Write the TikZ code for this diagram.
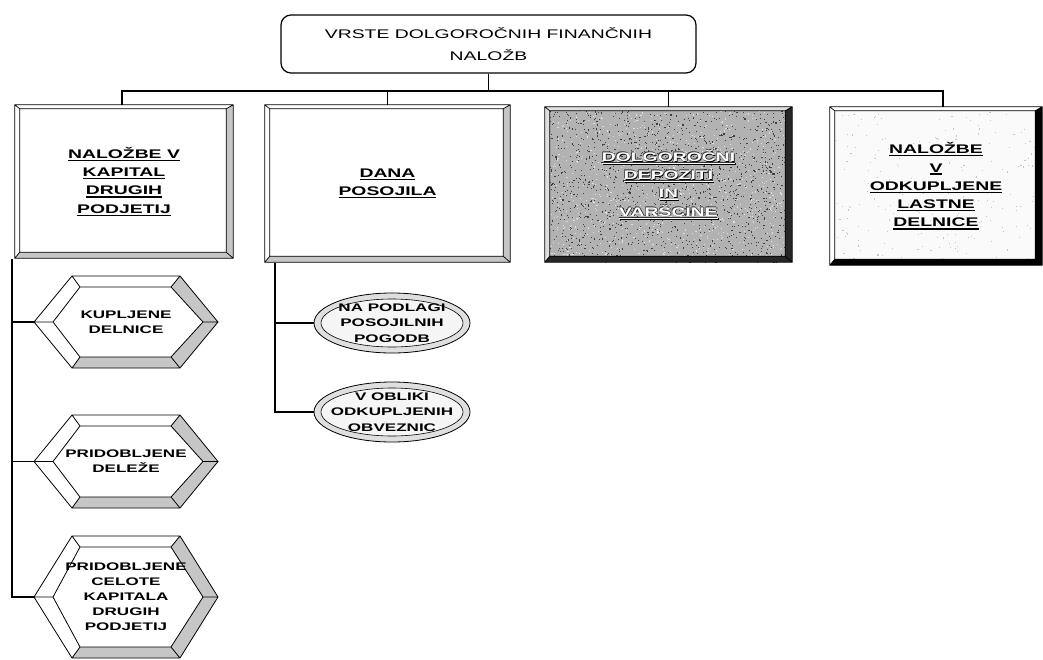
\documentclass[tikz,border=0pt]{standalone}
\usepackage{fontspec}
\setmainfont{Liberation Sans}
\newfontfamily\widefont[FakeStretch=1.55]{Liberation Sans}
\usetikzlibrary{calc}
\pgfdeclarelayer{background}
\pgfsetlayers{background,main}

% underlined word with a heavier rule
\newcommand\ul[1]{\setbox0=\hbox{#1}\rlap{\rule[-2.6pt]{\wd0}{1.2pt}}\box0}
% white lettering with a dark rim
\newcommand\emb[1]{%
  \rlap{\kern0.8pt\raisebox{-0.8pt}{\textcolor{black}{\ul{#1}}}}%
  \rlap{\kern-0.6pt\raisebox{0.6pt}{\textcolor{black!80}{\ul{#1}}}}%
  \textcolor{white}{\ul{#1}}}

% bevelled frame around a rectangular node: #1 node, #2 light faces, #3 dark faces
\newcommand\bevel[3]{%
  \coordinate (#1o1) at (#1.north west);
  \coordinate (#1o2) at (#1.north east);
  \coordinate (#1o3) at (#1.south east);
  \coordinate (#1o4) at (#1.south west);
  \coordinate (#1i1) at ([shift={(5,4)}]#1.north west);
  \coordinate (#1i2) at ([shift={(-7,4)}]#1.north east);
  \coordinate (#1i3) at ([shift={(-7,-6)}]#1.south east);
  \coordinate (#1i4) at ([shift={(5,-6)}]#1.south west);
  \fill[#2] (#1o1)--(#1i1)--(#1i4)--(#1o4)--cycle (#1o1)--(#1o2)--(#1i2)--(#1i1)--cycle;
  \fill[#3] (#1o2)--(#1o3)--(#1i3)--(#1i2)--cycle (#1o4)--(#1o3)--(#1i3)--(#1i4)--cycle;
  \draw[line width=0.7pt] (#1o1) rectangle (#1o3) (#1i1) rectangle (#1i3)
    (#1o1)--(#1i1) (#1o2)--(#1i2) (#1o3)--(#1i3) (#1o4)--(#1i4);
}

% bevelled hexagon: #1 cx, #2 cy, #3 half height, #4 dark faces
\newcommand\hexbev[4]{%
  \begin{scope}[shift={(#1,#2)}]
    \path (-92,0) coordinate (L) (-54,-#3) coordinate (TL) (54,-#3) coordinate (TR)
          (92,0) coordinate (R) (54,#3) coordinate (BR) (-54,#3) coordinate (BL)
          (-73,0) coordinate (iL) (-46,{-#3+11}) coordinate (iTL) (45,{-#3+11}) coordinate (iTR)
          (77,0) coordinate (iR) (45,{#3-11}) coordinate (iBR) (-46,{#3-11}) coordinate (iBL);
    \fill[white] (L)--(TL)--(TR)--(R)--(BR)--(BL)--cycle;
    \fill[#4] (TR)--(R)--(iR)--(iTR)--cycle (R)--(BR)--(iBR)--(iR)--cycle
              (BR)--(BL)--(iBL)--(iBR)--cycle;
    \draw[line width=0.8pt] (L)--(TL)--(TR)--(R)--(BR)--(BL)--cycle
      (iL)--(iTL)--(iTR)--(iR)--(iBR)--(iBL)--cycle
      (L)--(iL) (TL)--(iTL) (TR)--(iTR) (R)--(iR) (BR)--(iBR) (BL)--(iBL);
  \end{scope}
}

% double-rimmed ellipse: #1 cx, #2 cy
\newcommand\ellbev[2]{%
  \filldraw[fill=gray!25, line width=0.8pt] (#1,#2) ellipse [x radius=78pt, y radius=30pt];
  \filldraw[fill=gray!8, line width=0.6pt] (#1,#2) ellipse [x radius=71pt, y radius=24pt];
}

\tikzset{
  conn/.style={line width=1.8pt, black},
  branch/.style={line width=1.5pt, black},
  topbox/.style={rectangle, rounded corners=10pt, draw, line width=1.2pt, fill=white,
    minimum width=415pt, minimum height=58pt, inner sep=0pt, align=center,
    font=\widefont\fontsize{12.5}{22}\selectfont},
  facebox/.style={rectangle, inner sep=0pt, align=center,
    font=\widefont\bfseries\fontsize{12.5}{18.3}\selectfont},
  grain/.style n args={4}{path picture={
    \foreach \k in {1,...,#1}
      \fill[#2] ([shift={({rnd*250},{rnd*160})}]path picture bounding box.north west)
        rectangle ++(1.1,1.1);
    \foreach \k in {1,...,#3}
      \fill[#4] ([shift={({rnd*250},{rnd*160})}]path picture bounding box.north west)
        rectangle ++(1.1,1.1);}},
  hextext/.style={rectangle, inner sep=0pt, align=center, minimum width=184pt,
    font=\widefont\bfseries\fontsize{11}{15}\selectfont},
  elltext/.style={rectangle, inner sep=0pt, align=center, minimum width=156pt,
    minimum height=60pt, font=\widefont\bfseries\fontsize{11}{15.5}\selectfont},
}

\begin{document}
\begin{tikzpicture}[x=1pt, y=-1pt]
  \pgfmathsetseed{11}
  \useasboundingbox[fill=white] (0,0) rectangle (1043,659);

  % title box with its raised side
  \node[topbox] (top) at (488.5,44) {VRSTE DOLGOROČNIH FINANČNIH\\NALOŽB};
  \begin{pgfonlayer}{background}
    \filldraw[fill=gray!25, line width=0.9pt]
      ([shift={(-8,1)}]top.north east) -- ([shift={(8,11)}]top.north east)
      -- ([shift={(8,-5)}]top.south east) -- ([shift={(-8,-1)}]top.south east) -- cycle;
  \end{pgfonlayer}

  % four kinds of investment
  \node[facebox, fill=white, minimum width=218pt, minimum height=153pt] (b1) at (124,181.5)
    {\ul{NALOŽBE V}\\\ul{KAPITAL}\\\ul{DRUGIH}\\\ul{PODJETIJ}};
  \bevel{b1}{white}{gray!45}

  \node[facebox, fill=white, minimum width=245pt, minimum height=157pt] (b2) at (387.5,183.5)
    {\ul{DANA}\\\ul{POSOJILA}};
  \bevel{b2}{white}{gray!45}

  \node[facebox, fill=gray!60, grain={1500}{black!75}{900}{white!75!gray},
    minimum width=247pt, minimum height=155pt] (b3) at (668.5,184.5)
    {\emb{DOLGOROČNI}\\\emb{DEPOZITI}\\\emb{IN}\\\emb{VARŠCINE}};
  \bevel{b3}{gray!25}{black!85}

  \node[facebox, fill=gray!4, grain={300}{gray!45}{1}{gray!4},
    minimum width=212pt, minimum height=158pt] (b4) at (936,186)
    {\ul{NALOŽBE}\\\ul{V}\\\ul{ODKUPLJENE}\\\ul{LASTNE}\\\ul{DELNICE}};
  \bevel{b4}{white}{black}

  % connectors from the title to the four boxes
  \draw[conn] (top.south) -- ++(0,17) coordinate (bus);
  \draw[conn] ([xshift=-2pt]b1.north) |- (bus) -| ([xshift=7pt]b4.north);
  \draw[conn] (b2.north) -- (b2.north |- bus);
  \draw[conn] (b3.north) -- (b3.north |- bus);

  % investments in other companies
  \hexbev{126}{322}{46}{gray!45}
  \node[hextext, minimum height=92pt] (h1) at (126,322) {KUPLJENE\\DELNICE};
  \hexbev{126}{461.5}{46.5}{gray!45}
  \node[hextext, minimum height=93pt] (h2) at (126,461.5) {PRIDOBLJENE\\DELEŽE};
  \hexbev{126}{597}{61}{gray!45}
  \node[hextext, minimum height=122pt] (h3) at (126,597)
    {PRIDOBLJENE\\CELOTE\\KAPITALA\\DRUGIH\\PODJETIJ};

  \coordinate (lspine) at ([xshift=-3pt,yshift=-1pt]b1.south west);
  \draw[conn] (lspine) |- (h3.west);
  \draw[branch] (lspine |- h1.west) -- (h1.west);
  \draw[branch] (lspine |- h2.west) -- (h2.west);

  % loans given
  \ellbev{392}{323}
  \node[elltext] (e1) at (392,323) {NA PODLAGI\\POSOJILNIH\\POGODB};
  \ellbev{392}{412}
  \node[elltext] (e2) at (392,412) {V OBLIKI\\ODKUPLJENIH\\OBVEZNIC};

  \coordinate (rspine) at ([xshift=10pt,yshift=-1pt]b2.south west);
  \draw[conn] (rspine) |- (e2.west);
  \draw[branch] (rspine |- e1.west) -- (e1.west);
\end{tikzpicture}
\end{document}
